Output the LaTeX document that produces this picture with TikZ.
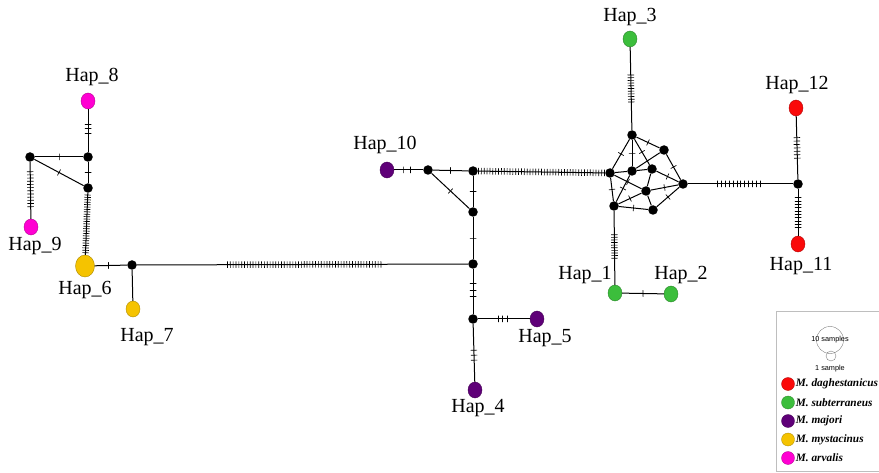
\documentclass[tikz,border=0pt]{standalone}
\usepackage{fontspec}
\setmainfont{Liberation Serif}
\setsansfont{Liberation Sans}
\usetikzlibrary{shapes.geometric}
\definecolor{hapred}{RGB}{250,10,10}
\definecolor{hapgreen}{RGB}{60,190,60}
\definecolor{happurple}{RGB}{95,0,120}
\definecolor{hapyellow}{RGB}{245,195,0}
\definecolor{happink}{RGB}{255,0,210}
\definecolor{leggray}{RGB}{190,190,190}

% ticks (mutations) on the edge a--b: number, first and last position
\newcommand{\mut}[5]{%
  \foreach \k in {1,...,#3}{%
    \pgfmathsetmacro\tpos{#4+(#5-#4)*(\k-1)/max(#3-1,1)}%
    \path (#1.center) -- (#2.center) node[tick,pos=\tpos] {};
  }}

\begin{document}
\begin{tikzpicture}[
    x=1pt, y=-1pt,
    hap/.style={ellipse,draw=#1!70!black,line width=0.4pt,fill=#1,
                minimum width=14pt,minimum height=16pt,inner sep=0pt},
    bighap/.style={hap=#1,minimum width=19pt,minimum height=22pt},
    med/.style={circle,fill=black,minimum size=9.5pt,inner sep=0pt},
    lbl/.style={font=\fontsize{20}{20}\selectfont,inner sep=0pt},
    edge/.style={line width=1pt},
    tick/.style={sloped,draw,line width=0.65pt,inner sep=0pt,
                 minimum width=0pt,minimum height=6.5pt},
    legdot/.style={circle,fill=#1,draw=#1!70!black,line width=0.3pt,
                   minimum size=13pt,inner sep=0pt},
    legtext/.style={anchor=west,inner sep=1pt,
                    font=\fontsize{11.3}{12}\selectfont\bfseries\itshape}]

    \useasboundingbox (0,0) rectangle (879,473);
    \clip (0,0) rectangle (879,473);

    % haplotypes
    \node[hap=hapgreen]  (hap1)  at (615,293) {};
    \node[hap=hapgreen]  (hap2)  at (671,294) {};
    \node[hap=hapgreen]  (hap3)  at (630,39)  {};
    \node[hap=happurple] (hap4)  at (475,390) {};
    \node[hap=happurple] (hap5)  at (537,319) {};
    \node[bighap=hapyellow] (hap6) at (85,266) {};
    \node[hap=hapyellow] (hap7)  at (133,309) {};
    \node[hap=happink]   (hap8)  at (88,101)  {};
    \node[hap=happink]   (hap9)  at (31,227)  {};
    \node[hap=happurple] (hap10) at (387,170) {};
    \node[hap=hapred]    (hap11) at (798,244) {};
    \node[hap=hapred]    (hap12) at (796,108) {};

    % labels
    \node[lbl] (lab1)  at (585,275) {Hap\_1};
    \node[lbl] (lab2)  at (681,275) {Hap\_2};
    \node[lbl] (lab3)  at (630,17)  {Hap\_3};
    \node[lbl] (lab4)  at (478,408) {Hap\_4};
    \node[lbl] (lab5)  at (545,338) {Hap\_5};
    \node[lbl] (lab6)  at (85,290)  {Hap\_6};
    \node[lbl] (lab7)  at (147,337) {Hap\_7};
    \node[lbl] (lab8)  at (92,77)   {Hap\_8};
    \node[lbl] (lab9)  at (35,246)  {Hap\_9};
    \node[lbl] (lab10) at (385,145) {Hap\_10};
    \node[lbl] (lab11) at (801,266) {Hap\_11};
    \node[lbl] (lab12) at (797,85)  {Hap\_12};

    % median vectors
    \node[med] (mA) at (88,157)  {};
    \node[med] (mB) at (30,157)  {};
    \node[med] (mC) at (88,188)  {};
    \node[med] (mD) at (132,265) {};
    \node[med] (mE) at (428,170) {};
    \node[med] (mF) at (473,171) {};
    \node[med] (mG) at (473,212) {};
    \node[med] (mH) at (473,264) {};
    \node[med] (mI) at (473,319) {};
    \node[med] (mJ) at (798,184) {};

    % reticulated cluster
    \node[med] (vTop)  at (632,135) {};
    \node[med] (vNE)   at (664,150) {};
    \node[med] (vW)    at (610,173) {};
    \node[med] (vMid)  at (632,171) {};
    \node[med] (vMidE) at (652,169) {};
    \node[med] (vE)    at (683,184) {};
    \node[med] (vLow)  at (646,191) {};
    \node[med] (vSW)   at (614,206) {};
    \node[med] (vSE)   at (653,210) {};

    % left part
    \draw[edge] (hap8) -- (mA);   \mut{hap8}{mA}{3}{0.41}{0.57}
    \draw[edge] (mA) -- (mB);     \mut{mA}{mB}{1}{0.5}{0.5}
    \draw[edge] (mA) -- (mC);     \mut{mA}{mC}{1}{0.5}{0.5}
    \draw[edge] (mB) -- (mC);     \mut{mB}{mC}{1}{0.5}{0.5}
    \draw[edge] (mB) -- (hap9);   \mut{mB}{hap9}{12}{0.21}{0.71}
    \draw[edge] (hap6) -- (mC);   \mut{hap6}{mC}{25}{0.17}{0.91}
    \draw[edge] (hap6) -- (mD);   \mut{hap6}{mD}{1}{0.5}{0.5}
    \draw[edge] (mD) -- (hap7);
    \draw[edge] (mD) -- (mH);     \mut{mD}{mH}{55}{0.28}{0.73}

    % middle part
    \draw[edge] (hap10) -- (mE);  \mut{hap10}{mE}{2}{0.39}{0.56}
    \draw[edge] (mE) -- (mF);     \mut{mE}{mF}{1}{0.5}{0.5}
    \draw[edge] (mE) -- (mG);     \mut{mE}{mG}{1}{0.5}{0.5}
    \draw[edge] (mF) -- (mG);     \mut{mF}{mG}{1}{0.5}{0.5}
    \draw[edge] (mG) -- (mH);     \mut{mG}{mH}{1}{0.5}{0.5}
    \draw[edge] (mH) -- (mI);     \mut{mH}{mI}{3}{0.36}{0.58}
    \draw[edge] (mI) -- (hap5);   \mut{mI}{hap5}{3}{0.39}{0.53}
    \draw[edge] (mI) -- (hap4);   \mut{mI}{hap4}{3}{0.44}{0.58}
    \draw[edge] (mF) -- (vW);     \mut{vW}{mF}{45}{0.04}{0.96}

    % cluster edges
    \draw[edge] (vTop) -- (vW);    \mut{vTop}{vW}{1}{0.5}{0.5}
    \draw[edge] (vTop) -- (vMid);  \mut{vTop}{vMid}{1}{0.5}{0.5}
    \draw[edge] (vTop) -- (vMidE); \mut{vTop}{vMidE}{1}{0.5}{0.5}
    \draw[edge] (vTop) -- (vNE);   \mut{vTop}{vNE}{1}{0.5}{0.5}
    \draw[edge] (vMid) -- (vNE);
    \draw[edge] (vNE) -- (vE);     \mut{vNE}{vE}{1}{0.5}{0.5}
    \draw[edge] (vW) -- (vMid);
    \draw[edge] (vMid) -- (vMidE);
    \draw[edge] (vMidE) -- (vE);   \mut{vMidE}{vE}{1}{0.5}{0.5}
    \draw[edge] (vW) -- (vLow);    \mut{vW}{vLow}{1}{0.5}{0.5}
    \draw[edge] (vW) -- (vSW);     \mut{vW}{vSW}{1}{0.5}{0.5}
    \draw[edge] (vMid) -- (vSW);   \mut{vMid}{vSW}{1}{0.5}{0.5}
    \draw[edge] (vMidE) -- (vLow);
    \draw[edge] (vLow) -- (vE);    \mut{vLow}{vE}{1}{0.5}{0.5}
    \draw[edge] (vSW) -- (vLow);   \mut{vSW}{vLow}{1}{0.5}{0.5}
    \draw[edge] (vSW) -- (vSE);    \mut{vSW}{vSE}{1}{0.5}{0.5}
    \draw[edge] (vSE) -- (vE);     \mut{vSE}{vE}{1}{0.5}{0.5}
    \draw[edge] (vLow) -- (vSE);

    % right part
    \draw[edge] (hap3) -- (vTop);  \mut{hap3}{vTop}{11}{0.375}{0.656}
    \draw[edge] (vSW) -- (hap1);   \mut{vSW}{hap1}{10}{0.33}{0.60}
    \draw[edge] (hap1) -- (hap2);  \mut{hap1}{hap2}{1}{0.5}{0.5}
    \draw[edge] (vE) -- (mJ);      \mut{vE}{mJ}{12}{0.30}{0.67}
    \draw[edge] (hap12) -- (mJ);   \mut{hap12}{mJ}{7}{0.39}{0.66}
    \draw[edge] (mJ) -- (hap11);   \mut{mJ}{hap11}{10}{0.23}{0.73}

    % legend
    \node[draw=leggray,line width=0.6pt,minimum width=110pt,minimum height=160pt,
          anchor=north west] (legbox) at (776,311) {};
    \node[circle,draw=gray,line width=0.4pt,minimum width=27pt,inner sep=0pt]
      (bigc) at (830,340) {};
    \node[circle,draw=gray,line width=0.4pt,minimum size=10pt,inner sep=0pt]
      (smallc) at (831,356) {};
    \node[font=\sffamily\fontsize{7.3}{8}\selectfont,inner sep=0pt] (ten) at (830,340)
      {10 samples};
    \node[font=\sffamily\fontsize{7.3}{8}\selectfont,inner sep=0pt] (one) at (830,369)
      {1 sample};
    \foreach \c/\n [count=\i] in {hapred/daghestanicus,hapgreen/subterraneus,
        happurple/majori,hapyellow/mystacinus,happink/arvalis}{
      \node[legdot=\c] (leg\i) at (788,365.5+18.5*\i) {};
      \node[legtext] (legt\i) at (leg\i.east) {M. \n};
    }
  \end{tikzpicture}
\end{document}
